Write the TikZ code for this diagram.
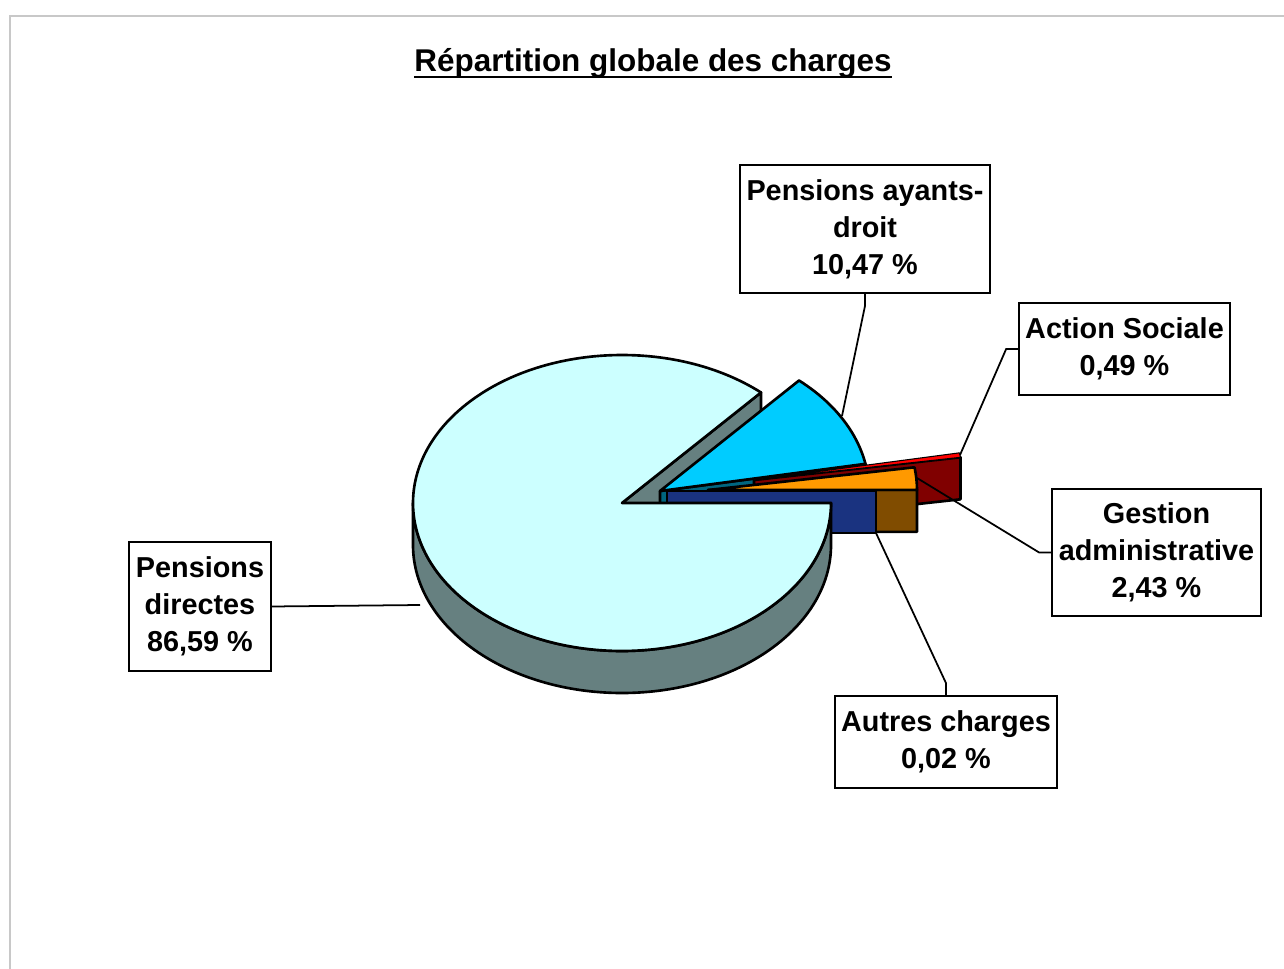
\documentclass[tikz,border=0pt]{standalone}
\usepackage{fontspec}
\setmainfont{Liberation Sans}
\usepackage{tikz}
\usetikzlibrary{calc}

\definecolor{dircyan}{RGB}{204,255,255}
\definecolor{dirside}{RGB}{102,128,128}
\definecolor{ayblue}{RGB}{0,204,255}
\definecolor{ayside}{RGB}{0,102,128}
\definecolor{socred}{RGB}{255,0,0}
\definecolor{socside}{RGB}{128,0,0}
\definecolor{gesorange}{RGB}{255,153,0}
\definecolor{gesside}{RGB}{128,76,0}
\definecolor{autside}{RGB}{26,51,128}
\definecolor{framegray}{RGB}{200,200,200}

\begin{document}
\begin{tikzpicture}[
			x=0.02cm, y=0.02cm,
			slice/.style={draw=black, line width=1.5pt, line join=round},
			lbl/.style={draw, line width=1pt, fill=white, align=center, inner sep=2pt,
				font=\bfseries\fontsize{16.4}{21}\selectfont},
			lead/.style={line width=1pt}
			]

				\useasboundingbox (0,0) rectangle (1284,-969);
				\draw[framegray, line width=1.4pt] (10,-969) -- (10,-16) -- (1284,-16);

				\node[font=\bfseries\fontsize{17.9}{22}\selectfont, inner sep=0, anchor=base] (title) at (653,-72) {Répartition globale des charges};
				\draw[line width=1.6pt] ([yshift=-2.8pt]title.base west) -- ([yshift=-2.8pt]title.base east);

				\coordinate (cdir) at (622,-503);
				\coordinate (cay) at (660,-491);
				\coordinate (csoc) at (754,-480);
				\coordinate (cges) at (708,-490);
				\coordinate (caut) at (667,-491);

				\filldraw[slice, fill=dirside] (cdir) -- ++(48.3:209 and 148) -- ++(0,-42) -- ($(cdir)+(0,-42)$) -- cycle;

				\filldraw[slice, fill=ayside] (cay) -- ++(10.58:209 and 148) -- ++(0,-42) -- ($(cay)+(0,-42)$) -- cycle;
				\filldraw[slice, fill=ayblue] (cay) -- ++(10.58:209 and 148) arc[start angle=10.58, end angle=48.3, x radius=209, y radius=148] -- cycle;

				\filldraw[slice, fill=socside] (csoc) -- ++(8.82:209 and 148) -- ++(0,-42) -- ($(csoc)+(0,-42)$) -- cycle;
				\filldraw[slice, line width=0.6pt, fill=socred] (csoc) -- ++(8.82:209 and 148) arc[start angle=8.82, end angle=10.58, x radius=209, y radius=148] -- cycle;

				\filldraw[slice, fill=gesside] (cges) -- ++(0.07:209 and 148) -- ++(0,-42) -- ($(cges)+(0,-42)$) -- cycle;
				\filldraw[slice, fill=gesorange] (cges) -- ++(0.07:209 and 148) arc[start angle=0.07, end angle=8.82, x radius=209, y radius=148] -- cycle;

				\filldraw[slice, fill=autside] (caut) -- ++(0:209 and 148) -- ++(0,-42) -- ($(caut)+(0,-42)$) -- cycle;

				\filldraw[slice, fill=dirside] ($(cdir)+(180:209 and 148)$) arc[start angle=180, end angle=360, x radius=209, y radius=148] -- ++(0,-42) arc[start angle=360, end angle=180, x radius=209, y radius=148] -- cycle;
				\filldraw[slice, fill=dircyan] (cdir) -- ++(48.3:209 and 148) arc[start angle=48.3, end angle=360, x radius=209, y radius=148] -- cycle;

				\node[lbl, minimum width=2.84cm, minimum height=2.58cm] (dir) at (200,-606.5) {Pensions\\directes\\86,59 \%};
				\node[lbl, minimum width=5cm, minimum height=2.56cm] (ay) at (865,-229) {Pensions ayants-\\droit\\10,47 \%};
				\node[lbl, minimum width=4.22cm, minimum height=1.84cm] (soc) at (1124.5,-349) {Action Sociale\\0,49 \%};
				\node[lbl, minimum width=4.18cm, minimum height=2.54cm] (ges) at (1156.5,-552.5) {Gestion\\administrative\\2,43 \%};
				\node[lbl, minimum width=4.44cm, minimum height=1.84cm] (aut) at (946,-742) {Autres charges\\0,02 \%};

				\coordinate (pdir) at (420,-605);
				\coordinate (pay) at (842,-416);
				\coordinate (psoc) at (960,-455);
				\coordinate (pges) at (917,-478);
				\coordinate (paut) at (876,-533);

				\draw[lead] (dir.east) -- (pdir);
				\draw[lead] (ay.south) -- ++(0,-12) -- (pay);
				\draw[lead] (soc.west) -- ++(-12,0) -- (psoc);
				\draw[lead] (ges.west) -- ++(-12,0) -- (pges);
				\draw[lead] (aut.north) -- ++(0,12) -- (paut);

			\end{tikzpicture}
\end{document}
